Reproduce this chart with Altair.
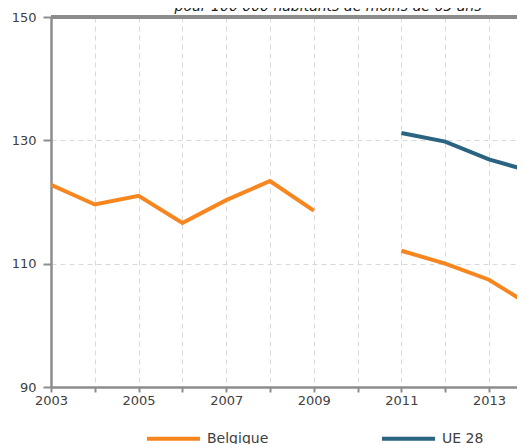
import altair as alt
import pandas as pd

years = list(range(2003, 2015))
belgique = [122.8, 119.6, 121.0, 116.6, 120.3, 123.4, 118.6, None, 112.1, 110.0, 107.4, 103.0]
ue28 = [None, None, None, None, None, None, None, None, 131.2, 129.8, 126.9, 124.9]
series_names = ["Belgique", "UE 28"]
series_colors = ["#F7861E", "#2A6481"]
y_ticks = [90, 110, 130, 150]
title_text = "pour 100 000 habitants de moins de 65 ans"

rows = []
for name, vals in zip(series_names, [belgique, ue28]):
    seg = 0
    for yr, v in zip(years, vals):
        if v is None:
            seg += 1
            continue
        rows.append({"annee": yr, "valeur": v, "serie": name, "segment": f"{name}-{seg}"})
df = pd.DataFrame(rows)

FONT = "DejaVu Sans"
GRAY = "#8c8c8c"

x_enc = alt.X(
    "annee:Q",
    scale=alt.Scale(domain=[2003, 2013.64], nice=False, zero=False),
    axis=alt.Axis(
        values=years[:-1],
        format="d",
        labelExpr="datum.value % 2 == 1 ? datum.label : ''",
        grid=True,
        gridDash=[5, 4],
        gridColor="#d9d9d9",
        domainColor=GRAY,
        domainWidth=2.5,
        tickColor=GRAY,
        tickWidth=2,
        tickSize=5,
        labelFontSize=13,
        labelColor="#404040",
        labelFont=FONT,
        labelPadding=2,
        labelFlush=False,
        title=None,
    ),
)
y_enc = alt.Y(
    "valeur:Q",
    scale=alt.Scale(domain=[90, 150], nice=False, zero=False),
    axis=alt.Axis(
        values=y_ticks,
        grid=True,
        gridDash=[5, 4],
        gridColor="#d9d9d9",
        domainColor=GRAY,
        domainWidth=2.5,
        tickColor=GRAY,
        tickWidth=2,
        tickSize=8,
        labelFontSize=13,
        labelColor="#404040",
        labelFont=FONT,
        labelPadding=7,
        title=None,
    ),
)

lines = alt.Chart(df).mark_line(strokeWidth=4, clip=True).encode(
    x=x_enc,
    y=y_enc,
    color=alt.Color(
        "serie:N",
        scale=alt.Scale(domain=series_names, range=series_colors),
        legend=alt.Legend(
            title=None,
            orient="none",
            legendX=94,
            legendY=393,
            direction="horizontal",
            symbolType="stroke",
            symbolSize=2809,
            symbolStrokeWidth=4,
            labelFontSize=14,
            labelFont=FONT,
            labelColor="#404040",
            labelOffset=5,
            columnPadding=105,
            padding=0,
        ),
    ),
    detail="segment:N",
)

top_rule = alt.Chart(df).mark_rule(color=GRAY, strokeWidth=2.5).encode(y=alt.datum(150))

chart = alt.layer(lines, top_rule).properties(
    width=466,
    height=370,
    autosize=alt.AutoSizeParams(type="none"),
    padding={"left": 43, "top": 9, "right": 0, "bottom": 57},
    title=alt.Title(
        title_text,
        fontStyle="italic",
        fontSize=14,
        font=FONT,
        color="#202020",
        fontWeight="normal",
        anchor="middle",
        dx=44,
        dy=8,
        offset=5,
    ),
).configure_view(stroke=None)

chart.save("out.html", embed_options={"renderer": "svg", "actions": False})
